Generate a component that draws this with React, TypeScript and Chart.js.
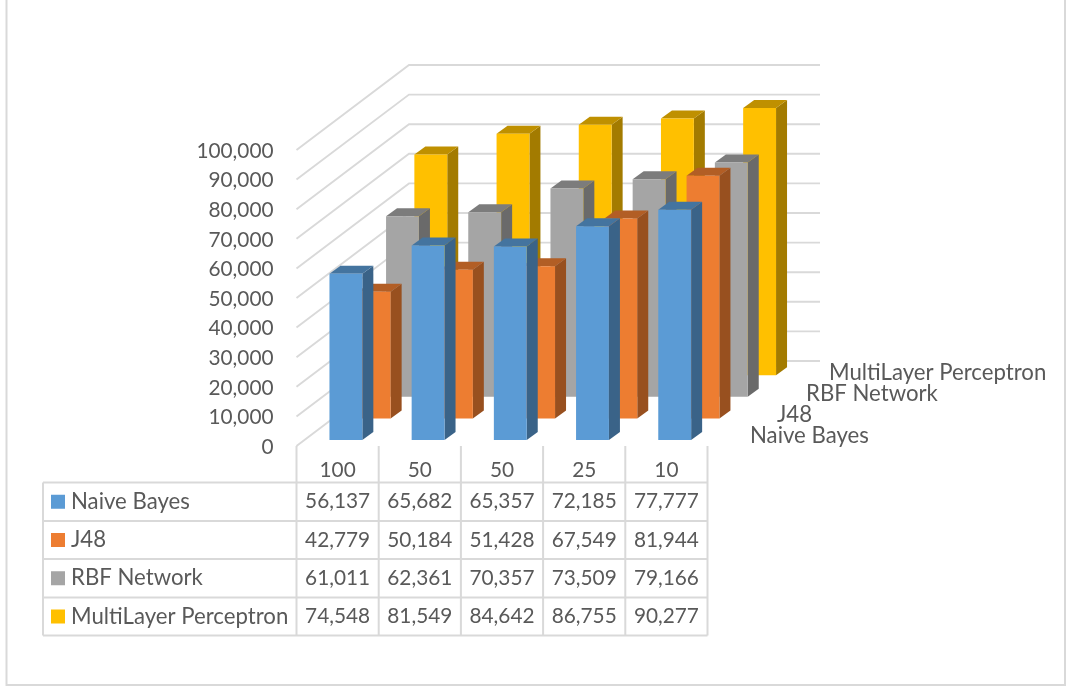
import React, { useEffect, useRef } from "react";
import { Chart, registerables } from "chart.js";

Chart.register(...registerables);

const trainingSplits = ["100", "50", "50", "25", "10"];
const seriesNames = ["Naive Bayes", "J48", "RBF Network", "MultiLayer Perceptron"];
const naiveBayes = [56137, 65682, 65357, 72185, 77777];
const j48 = [42779, 50184, 51428, 67549, 81944];
const rbfNetwork = [61011, 62361, 70357, 73509, 79166];
const multiLayerPerceptron = [74548, 81549, 84642, 86755, 90277];
const seriesValues = [naiveBayes, j48, rbfNetwork, multiLayerPerceptron];

const frontColors = ["#5B9BD5", "#ED7D31", "#A5A5A5", "#FFC000"];
const topColors = ["#44749F", "#B25E25", "#7C7C7C", "#BF9000"];
const sideColors = ["#3A6388", "#98501F", "#6A6A6A", "#A37B00"];

const FONT_FAMILY = "Lato, sans-serif";
const NUMBER_SIZE = 20.8;
const NAME_SIZE = 22.2;
const TEXT = "#595959";
const LINE = "#D9D9D9";

// Oblique projection of the depth axis
const WALL_DX = 112.5;
const WALL_DY = -85;
const SERIES_DX = (i: number) => 8.3 + 28.3 * i;
const SERIES_DY = (i: number) => -6 - 21.6 * i;
const BAR_DX = 11;
const BAR_DY = -8;

// Data table geometry
const TABLE_LEFT = 43;
const TABLE_ROWS = [482.5, 521, 559, 597.5, 635.5];
const DEPTH_LABEL_X = [750, 777, 806, 829];
const DEPTH_LABEL_Y = [435.7, 415, 393.5, 372.7];

const fmt = (v: number) => v.toLocaleString("en-US");

const poly = (ctx: CanvasRenderingContext2D, color: string, pts: number[][]) => {
  ctx.fillStyle = color;
  ctx.beginPath();
  pts.forEach(([x, y], i) => (i ? ctx.lineTo(x, y) : ctx.moveTo(x, y)));
  ctx.closePath();
  ctx.fill();
};

const prismBars = {
  id: "prismBars",
  beforeDatasetDraw(chart: any, args: any) {
    const ctx: CanvasRenderingContext2D = chart.ctx;
    const i = args.index;
    const ox = SERIES_DX(i);
    const oy = SERIES_DY(i);
    args.meta.data.forEach((bar: any) => {
      const l = bar.x - bar.width / 2 + ox;
      const r = bar.x + bar.width / 2 + ox;
      const t = bar.y + oy;
      const b = bar.base + oy;
      poly(ctx, sideColors[i], [[r, t], [r + BAR_DX, t + BAR_DY], [r + BAR_DX, b + BAR_DY], [r, b]]);
      poly(ctx, topColors[i], [[l, t], [l + BAR_DX, t + BAR_DY], [r + BAR_DX, t + BAR_DY], [r, t]]);
      poly(ctx, frontColors[i], [[l, t], [r, t], [r, b], [l, b]]);
    });
    return false;
  },
};

const wallsAndTable = {
  id: "wallsAndTable",
  beforeDatasetsDraw(chart: any) {
    const ctx: CanvasRenderingContext2D = chart.ctx;
    const { left, right } = chart.chartArea;
    const yScale = chart.scales.y;
    ctx.save();
    ctx.strokeStyle = LINE;
    ctx.lineWidth = 1.9;
    yScale.ticks.forEach((tick: any) => {
      const y = yScale.getPixelForValue(tick.value);
      ctx.beginPath();
      ctx.moveTo(left, y);
      ctx.lineTo(left + WALL_DX, y + WALL_DY);
      ctx.lineTo(right + WALL_DX, y + WALL_DY);
      ctx.stroke();
    });
    ctx.restore();
  },
  afterDraw(chart: any) {
    const ctx: CanvasRenderingContext2D = chart.ctx;
    const { left, right, bottom } = chart.chartArea;
    const xScale = chart.scales.x;
    const step = (right - left) / trainingSplits.length;
    ctx.save();

    // Chart frame
    ctx.strokeStyle = LINE;
    ctx.lineWidth = 2;
    ctx.strokeRect(6.5, -6, 1058.5, 691);

    // Data table rules
    ctx.lineWidth = 2;
    ctx.beginPath();
    TABLE_ROWS.forEach((y) => {
      ctx.moveTo(TABLE_LEFT, y);
      ctx.lineTo(right, y);
    });
    ctx.moveTo(TABLE_LEFT, TABLE_ROWS[0]);
    ctx.lineTo(TABLE_LEFT, TABLE_ROWS[4]);
    for (let c = 0; c <= trainingSplits.length; c++) {
      ctx.moveTo(left + c * step, bottom);
      ctx.lineTo(left + c * step, TABLE_ROWS[4]);
    }
    ctx.stroke();

    // Table contents
    ctx.textBaseline = "middle";
    seriesNames.forEach((name, i) => {
      const cy = (TABLE_ROWS[i] + TABLE_ROWS[i + 1]) / 2;
      ctx.fillStyle = frontColors[i];
      ctx.fillRect(51, cy - 7, 14, 14);
      ctx.fillStyle = TEXT;
      ctx.font = `${NAME_SIZE}px ${FONT_FAMILY}`;
      ctx.textAlign = "left";
      ctx.fillText(name, 71, cy);
      ctx.font = `${NUMBER_SIZE}px ${FONT_FAMILY}`;
      ctx.textAlign = "center";
      seriesValues[i].forEach((v, c) => {
        ctx.fillText(fmt(v), xScale.getPixelForTick(c), cy);
      });
    });

    // Depth axis labels
    ctx.font = `${NAME_SIZE}px ${FONT_FAMILY}`;
    ctx.textAlign = "left";
    seriesNames.forEach((name, i) => {
      ctx.fillText(name, DEPTH_LABEL_X[i], DEPTH_LABEL_Y[i]);
    });
    ctx.restore();
  },
};

export default function App() {
  const ref = useRef<HTMLCanvasElement>(null);

  useEffect(() => {
    const font = { family: FONT_FAMILY, size: NUMBER_SIZE };
    const chart = new Chart(ref.current!, {
      type: "bar",
      data: {
        labels: trainingSplits,
        datasets: seriesNames.map((label, i) => ({
          label,
          data: seriesValues[i],
          backgroundColor: frontColors[i],
          grouped: false,
          barPercentage: 0.4,
          categoryPercentage: 1,
        })),
      },
      options: {
        responsive: false,
        animation: false,
        layout: { padding: { top: 150, right: 360.5, bottom: 0, left: 0 } },
        plugins: { legend: { display: false }, tooltip: { enabled: false } },
        scales: {
          x: {
            grid: { display: false },
            border: { display: false },
            ticks: { color: TEXT, font, padding: 4, maxRotation: 0, autoSkip: false },
            afterFit: (s: any) => {
              s.height = 240;
            },
          },
          y: {
            min: 0,
            max: 100000,
            grid: { display: false },
            border: { display: false },
            ticks: {
              color: TEXT,
              font,
              stepSize: 10000,
              padding: 15,
              labelOffset: 1,
              callback: (v: any) => fmt(Number(v)),
            },
            afterFit: (s: any) => {
              s.width = 296.5;
            },
          },
        },
      },
      plugins: [wallsAndTable, prismBars],
    } as any);
    return () => chart.destroy();
  }, []);

  return (
    <div style={{ position: "fixed", left: 0, top: 0, width: 1068, height: 686, background: "#fff" }}>
      <canvas ref={ref} width={1068} height={686} style={{ display: "block" }} />
    </div>
  );
}
